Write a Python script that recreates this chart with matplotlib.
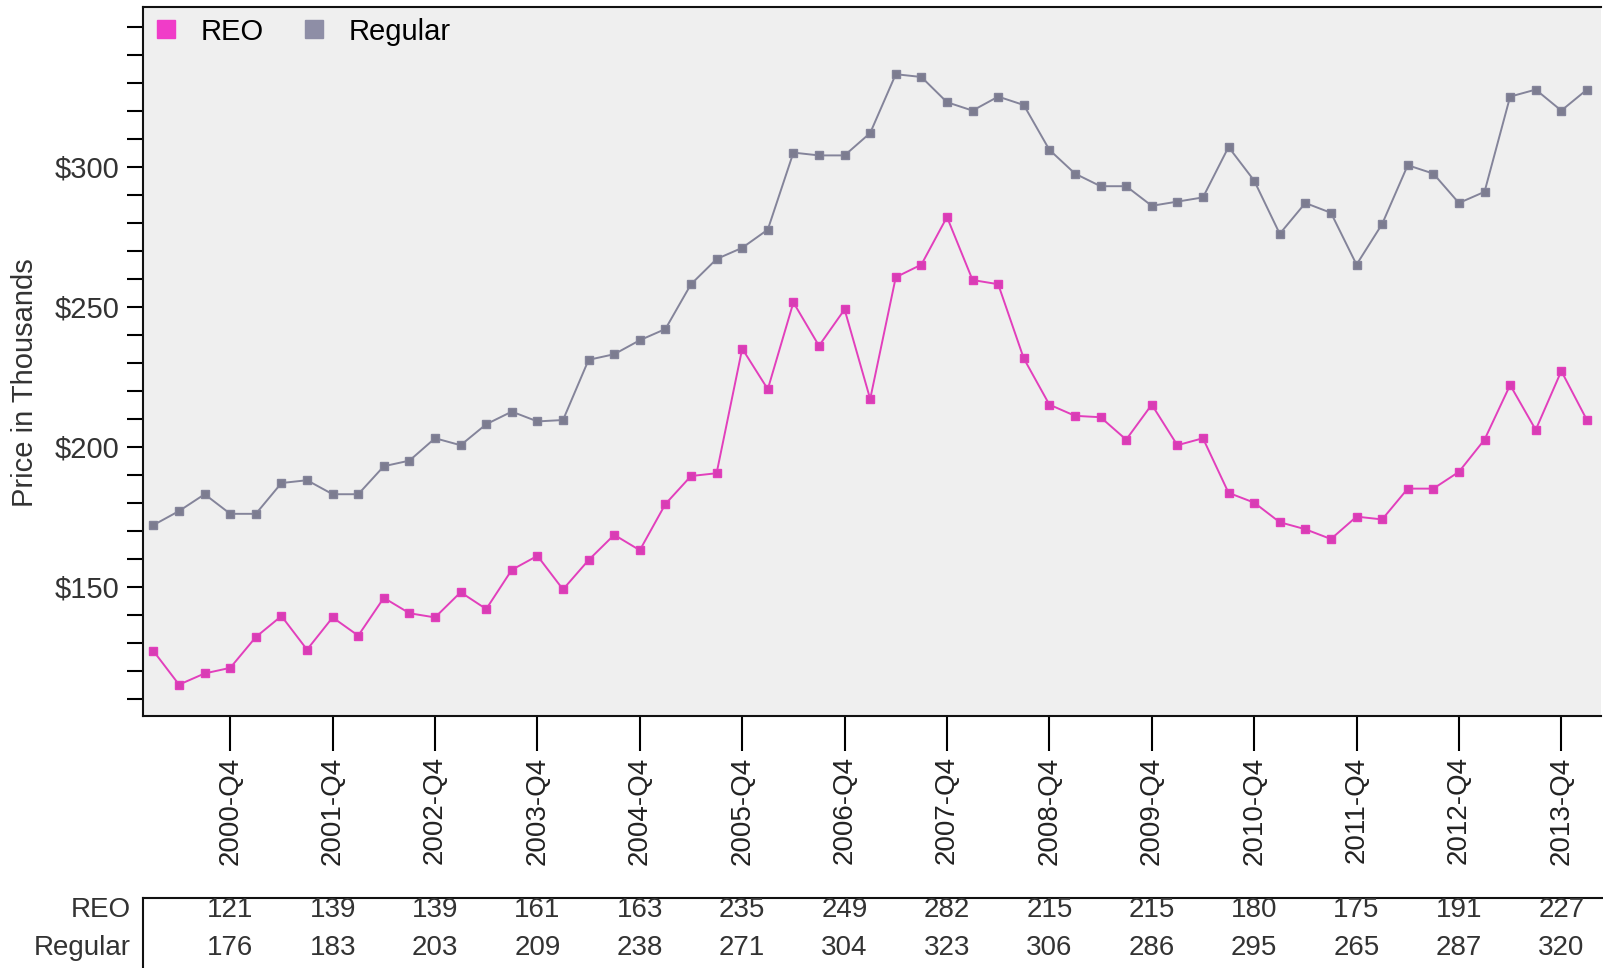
import matplotlib
matplotlib.use("Agg")
import matplotlib.pyplot as plt
from matplotlib.lines import Line2D
from matplotlib.ticker import MultipleLocator

plt.rcParams['font.family'] = ['Liberation Sans', 'DejaVu Sans']

# quarterly data 2000-Q1 .. 2014-Q1 (price in thousands)
quarters = [f"{y}-Q{q}" for y in range(2000, 2015) for q in range(1, 5)][:57]

reo = [127, 115, 119, 121, 132, 139.5, 127.5, 139, 132.5, 146, 140.5, 139, 148, 142,
       156, 161, 149, 159.5, 168.5, 163, 179.5, 189.5, 190.5, 235, 220.5, 251.5, 236, 249,
       217, 260.5, 265, 282, 259.5, 258, 231.5, 215, 211, 210.5, 202.5, 215, 200.5, 203,
       183.5, 180, 173, 170.5, 167, 175, 174, 185, 185, 191, 202.5, 222, 206, 227, 209.5]

regular = [172, 177, 183, 176, 176, 187, 188, 183, 183, 193, 195, 203, 200.5, 208,
           212.5, 209, 209.5, 231, 233, 238, 242, 258, 267, 271, 277.5, 305, 304, 304,
           312, 333, 332, 323, 320, 325, 322, 306, 297.5, 293, 293, 286, 287.5, 289,
           307, 295, 276, 287, 283.5, 265, 279.5, 300.5, 297.5, 287, 291, 325, 327.5, 320, 327.5]

# table rows (Q4 values)
tick_idx = list(range(3, 57, 4))
reo_q4 = [121, 139, 139, 161, 163, 235, 249, 282, 215, 215, 180, 175, 191, 227]
regular_q4 = [176, 183, 203, 209, 238, 271, 304, 323, 306, 286, 295, 265, 287, 320]

REO_COLOR = '#E23FBC'
REG_COLOR = '#84849A'

W, H = 1603, 968
fig = plt.figure(figsize=(W / 100, H / 100), dpi=100)

left_px, right_px, top_px, bottom_px = 142.7, 1601, 7, 716
ax = fig.add_axes([left_px / W, 1 - bottom_px / H,
                   (right_px - left_px) / W, (bottom_px - top_px) / H])
ax.set_facecolor('#EFEFEF')

x = list(range(len(quarters)))
ax.plot(x, reo, color=REO_COLOR, lw=1.4, marker='s', ms=6.3, mec=REO_COLOR, mfc='#D83DB4')
ax.plot(x, regular, color=REG_COLOR, lw=1.4, marker='s', ms=6.3, mec=REG_COLOR, mfc='#7C7C90')

ax.set_xlim(-0.42, 56.55)
ax.set_ylim(103.8, 357)

ax.set_xticks(tick_idx)
ax.set_xticklabels([quarters[i] for i in tick_idx], rotation=90, fontsize=20, color='#222222')
ax.tick_params(axis='x', length=25, width=1.5, pad=4)

ax.yaxis.set_major_locator(MultipleLocator(50))
ax.yaxis.set_minor_locator(MultipleLocator(10))
ax.set_yticks([150, 200, 250, 300])
ax.set_yticklabels(['$150', '$200', '$250', '$300'], fontsize=21, color='#333333')
ax.tick_params(axis='y', which='both', length=11.5, width=1.5, pad=5)

for s in ['left', 'bottom', 'top']:
    ax.spines[s].set_linewidth(1.5)
    ax.spines[s].set_color('#111111')
ax.spines['right'].set_visible(False)

fig.text(25 / W, 1 - 383 / H, 'Price in Thousands', rotation=90, fontsize=21,
         color='#333333', ha='center', va='center')

handles = [Line2D([], [], ls='none', marker='s', ms=13, color='#F03CC8'),
           Line2D([], [], ls='none', marker='s', ms=13, color='#8E8EA6')]
ax.legend(handles, ['REO', 'Regular'], loc='upper left', bbox_to_anchor=(0.006, 0.985),
          ncol=2, frameon=False, fontsize=21, handlelength=1.0, handletextpad=0.7,
          columnspacing=1.2, borderpad=0, borderaxespad=0)

# data table under the chart
axt = fig.add_axes([left_px / W, 0, (W - left_px) / W, 70 / H])
axt.set_xlim(-0.42, 56.55 + (W - right_px) / 25.6)
axt.set_ylim(0, 1)
axt.set_xticks([])
axt.set_yticks([])
axt.spines['right'].set_visible(False)
axt.spines['bottom'].set_visible(False)
for s in ['left', 'top']:
    axt.spines[s].set_linewidth(1.5)
    axt.spines[s].set_color('#111111')

for i, a, b in zip(tick_idx, reo_q4, regular_q4):
    axt.text(i, 0.83, str(a), ha='center', va='center', fontsize=20, color='#333333')
    axt.text(i, 0.29, str(b), ha='center', va='center', fontsize=20, color='#333333')

axt.text(-0.008, 0.83, 'REO', transform=axt.transAxes, ha='right', va='center',
         fontsize=20, color='#333333')
axt.text(-0.008, 0.29, 'Regular', transform=axt.transAxes, ha='right', va='center',
         fontsize=20, color='#333333')

fig.savefig('out.png', dpi=100)
